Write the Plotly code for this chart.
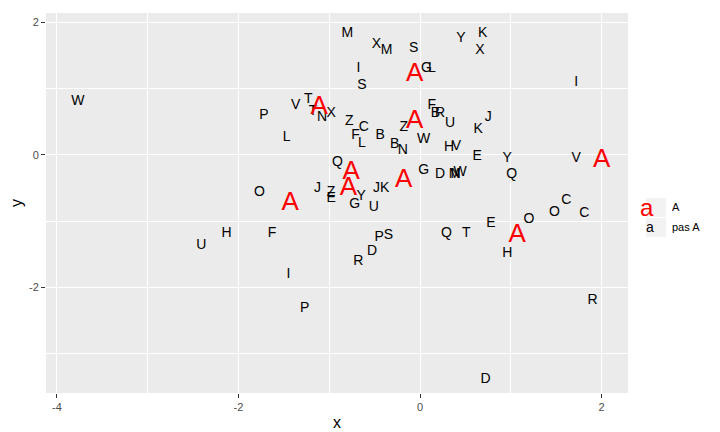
import plotly.graph_objects as go

lab = ["M","X","M","S","Y","K","X","I","G","L","S","I","W","T","V","P","T","N","X","Z","C","F","L","B","Z","F","B","R","U","J","K","W","L","B","N","H","V","E","Y","V","Q","G","D","M","N","W","Q","O","J","Z","E","Y","G","J","K","U","C","O","C","O","E","Q","T","F","H","U","P","S","D","R","H","I","R","P","D"]
xs = [-0.80,-0.48,-0.37,-0.07,0.45,0.69,0.66,-0.68,0.07,0.13,-0.64,1.72,-3.77,-1.23,-1.37,-1.72,-1.18,-1.08,-0.98,-0.78,-0.62,-0.71,-0.64,-0.44,-0.18,0.13,0.17,0.22,0.33,0.75,0.64,0.04,-1.47,-0.28,-0.19,0.32,0.40,0.63,0.96,1.72,-0.91,0.04,0.22,0.38,0.39,0.44,1.01,-1.77,-1.13,-0.98,-0.98,-0.65,-0.72,-0.48,-0.39,-0.51,1.61,1.48,1.81,1.20,0.78,0.29,0.51,-1.63,-2.13,-2.41,-0.45,-0.35,-0.53,-0.68,0.96,-1.45,1.90,-1.27,0.72]
ys = [1.83,1.67,1.57,1.60,1.76,1.83,1.57,1.31,1.30,1.31,1.04,1.09,0.81,0.84,0.74,0.59,0.66,0.56,0.62,0.51,0.41,0.29,0.17,0.29,0.41,0.75,0.62,0.62,0.47,0.57,0.39,0.24,0.27,0.15,0.06,0.11,0.12,-0.02,-0.05,-0.05,-0.11,-0.23,-0.29,-0.29,-0.29,-0.27,-0.29,-0.56,-0.51,-0.57,-0.65,-0.62,-0.75,-0.50,-0.50,-0.80,-0.69,-0.87,-0.89,-0.97,-1.03,-1.18,-1.18,-1.19,-1.19,-1.36,-1.24,-1.22,-1.46,-1.61,-1.49,-1.81,-2.19,-2.31,-3.38]
ax = [-0.06,-1.11,-0.06,-0.76,-0.79,-0.18,-1.43,1.07,2.00]
ay = [1.21,0.72,0.51,-0.27,-0.51,-0.38,-0.74,-1.21,-0.08]

fig = go.Figure()
fig.add_trace(go.Scatter(x=xs, y=ys, mode="text", text=lab, showlegend=False,
    textfont=dict(family="Liberation Sans, Arial", size=14, color="black"), hoverinfo="skip"))
fig.add_trace(go.Scatter(x=ax, y=ay, mode="text", text=["A"]*len(ax), showlegend=False,
    textfont=dict(family="Liberation Sans, Arial", size=26, color="red"), hoverinfo="skip"))

fig.update_layout(
    width=720, height=432, margin=dict(l=38, r=100, t=5, b=47),
    plot_bgcolor="#EBEBEB", paper_bgcolor="white",
    font=dict(family="Liberation Sans, Arial", color="black", size=13),
    xaxis=dict(range=[-4.12, 2.29], tickvals=[-4,-2,0,2], ticktext=["-4","-2","0","2"],
               automargin=False,
               gridcolor="white", gridwidth=1.2, zeroline=False, ticks="outside", ticklen=4,
               tickcolor="#333", tickfont=dict(color="#4d4d4d", size=11),
               minor=dict(tickvals=[-3,-1,1], gridcolor="white", gridwidth=0.6),
               title=dict(text="x", standoff=4)),
    yaxis=dict(range=[-3.59, 2.14], tickvals=[-2,0,2], ticktext=["-2","0","2"],
               automargin=False,
               gridcolor="white", gridwidth=1.2, zeroline=False, ticks="outside", ticklen=4,
               tickcolor="#333", tickfont=dict(color="#4d4d4d", size=11),
               minor=dict(tickvals=[-3,-1,1], gridcolor="white", gridwidth=0.6),
               title=dict(text="y", standoff=4)),
)
# legend drawn manually
fig.add_shape(type="rect", xref="paper", yref="paper", x0=(638-38)/582, x1=(658-38)/582,
              y0=(385-209)/380, y1=(385-190)/380, fillcolor="#F2F2F2", line_width=0)
fig.add_shape(type="rect", xref="paper", yref="paper", x0=(638-38)/582, x1=(658-38)/582,
              y0=(385-229)/380, y1=(385-210)/380, fillcolor="#F2F2F2", line_width=0)
fig.add_annotation(xref="paper", yref="paper", x=(648-38)/582, y=(385-199)/380, text="a",
                   showarrow=False, font=dict(size=24, color="red"))
fig.add_annotation(xref="paper", yref="paper", x=(648-38)/582, y=(385-219)/380, text="a",
                   showarrow=False, font=dict(size=14, color="black"))
fig.add_annotation(xref="paper", yref="paper", x=(662-38)/582, y=(385-199)/380, text="A",
                   showarrow=False, xanchor="left", font=dict(size=11))
fig.add_annotation(xref="paper", yref="paper", x=(662-38)/582, y=(385-219)/380, text="pas A",
                   showarrow=False, xanchor="left", font=dict(size=11))
fig.write_html("out.html")
